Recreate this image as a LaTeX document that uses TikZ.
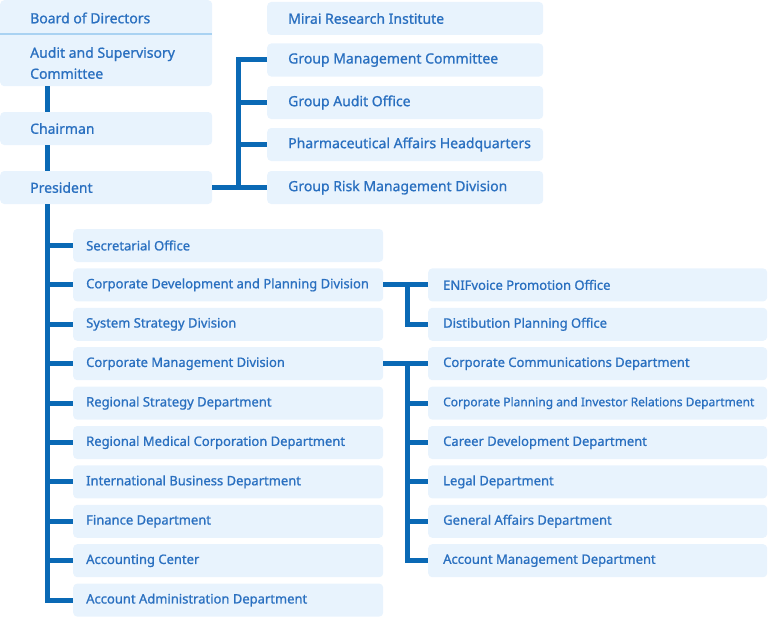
\documentclass[tikz,border=0pt]{standalone}
\usepackage{fontspec}
\setmainfont{Noto Sans}[FakeBold=1.0]
\definecolor{boxfill}{HTML}{E8F3FD}
\definecolor{txt}{HTML}{2A70C0}
\definecolor{ln}{HTML}{0A69B5}
\definecolor{divl}{HTML}{A9D2F2}
\begin{document}
\begin{tikzpicture}[x=1pt,y=-1pt,
  box/.style={fill=boxfill, draw=none, rounded corners=4pt, inner sep=0pt, anchor=west, minimum height=33pt},
  lbl/.style={text=txt, font=\fontsize{13}{15}\selectfont, anchor=west, inner sep=0pt},
  lbll/.style={lbl, font=\fontsize{14}{16}\selectfont},
  lbls/.style={lbl, font=\fontsize{12}{14}\selectfont},
  conn/.style={draw=ln, line width=5pt}]
\useasboundingbox (0,0) rectangle (768,618);

% left top column
\node[box, anchor=north west, minimum width=212pt, minimum height=86pt] (top) at (0,0) {};
\coordinate (dv) at (0,34);
\draw[divl, line width=1.5pt] (dv) -- (dv -| top.east);
\node[lbll] (bod) at (30,18) {Board of Directors};
\node[lbll, align=left, font=\fontsize{14}{21}\selectfont] (asc) at (30,63) {Audit and Supervisory\\Committee};
\node[box, minimum width=212pt, label={[lbll,xshift=30pt]west:Chairman}] (chair) at (0,128.5) {};
\node[box, minimum width=212pt, label={[lbll,xshift=30pt]west:President}] (pres) at (0,187.5) {};

% right top column
\node[box, minimum width=276pt, label={[lbll,xshift=21pt]west:Mirai Research Institute}] (mirai) at (267,18.5) {};
\node[box, minimum width=276pt, label={[lbll,xshift=21pt]west:Group Management Committee}] (gmc) at (267,60) {};
\node[box, minimum width=276pt, label={[lbll,xshift=21pt]west:Group Audit Office}] (gao) at (267,102.5) {};
\node[box, minimum width=276pt, label={[lbll,xshift=21pt]west:Pharmaceutical Affairs Headquarters}] (pah) at (267,144.5) {};
\node[box, minimum width=276pt, label={[lbll,xshift=21pt]west:Group Risk Management Division}] (grm) at (267,187.5) {};

% left children
\node[box, minimum width=310pt, label={[lbl,xshift=13pt]west:Secretarial Office}] (sec) at (73,245.5) {};
\node[box, minimum width=310pt, label={[lbl,xshift=13pt]west:Corporate Development and Planning Division}] (cdp) at (73,284.9) {};
\node[box, minimum width=310pt, label={[lbl,xshift=13pt]west:System Strategy Division}] (ssd) at (73,324.3) {};
\node[box, minimum width=310pt, label={[lbl,xshift=13pt]west:Corporate Management Division}] (cmd) at (73,363.7) {};
\node[box, minimum width=310pt, label={[lbl,xshift=13pt]west:Regional Strategy Department}] (rsd) at (73,403.1) {};
\node[box, minimum width=310pt, label={[lbl,xshift=13pt]west:Regional Medical Corporation Department}] (rmc) at (73,442.5) {};
\node[box, minimum width=310pt, label={[lbl,xshift=13pt]west:International Business Department}] (ibd) at (73,481.9) {};
\node[box, minimum width=310pt, label={[lbl,xshift=13pt]west:Finance Department}] (fin) at (73,521.3) {};
\node[box, minimum width=310pt, label={[lbl,xshift=13pt]west:Accounting Center}] (acc) at (73,560.7) {};
\node[box, minimum width=310pt, label={[lbl,xshift=13pt]west:Account Administration Department}] (aad) at (73,600.1) {};

% right children
\node[box, minimum width=339pt, label={[lbl,xshift=15pt]west:ENIFvoice Promotion Office}] (enif) at (428,284.9) {};
\node[box, minimum width=339pt, label={[lbl,xshift=15pt]west:Distibution Planning Office}] (dpo) at (428,324.3) {};
\node[box, minimum width=339pt, label={[lbl,xshift=15pt]west:Corporate Communications Department}] (ccd) at (428,363.7) {};
\node[box, minimum width=339pt, label={[lbls,xshift=15pt]west:Corporate Planning and Investor Relations Department}] (cpir) at (428,403.1) {};
\node[box, minimum width=339pt, label={[lbl,xshift=15pt]west:Career Development Department}] (cdd) at (428,442.5) {};
\node[box, minimum width=339pt, label={[lbl,xshift=15pt]west:Legal Department}] (leg) at (428,481.9) {};
\node[box, minimum width=339pt, label={[lbl,xshift=15pt]west:General Affairs Department}] (gad) at (428,521.3) {};
\node[box, minimum width=339pt, label={[lbl,xshift=15pt]west:Account Management Department}] (amd) at (428,560.7) {};

% connectors
\coordinate (spine) at (47,0);
\coordinate (tb) at (238,0);
\coordinate (rb) at (407,0);
\draw[conn] (spine |- top.south) -- (spine |- chair.north);
\draw[conn] (spine |- chair.south) -- (spine |- pres.north);
\draw[conn] (spine |- pres.south) -- (spine |- aad.west) -- (aad.west);
\foreach \n in {sec,cdp,ssd,cmd,rsd,rmc,ibd,fin,acc}
  \draw[conn] (spine |- \n.west) -- (\n.west);

\draw[conn] (pres.east) -- (grm.west);
\draw[conn] (gmc.west) -- (tb |- gmc.west) -- (tb |- grm.west);
\foreach \n in {gao,pah}
  \draw[conn] (tb |- \n.west) -- (\n.west);

\draw[conn] (cdp.east) -- (enif.west);
\draw[conn] (rb |- enif.west) -- (rb |- dpo.west) -- (dpo.west);
\draw[conn] (cmd.east) -- (ccd.west);
\draw[conn] (rb |- ccd.west) -- (rb |- amd.west) -- (amd.west);
\foreach \n in {cpir,cdd,leg,gad}
  \draw[conn] (rb |- \n.west) -- (\n.west);
\end{tikzpicture}
\end{document}
